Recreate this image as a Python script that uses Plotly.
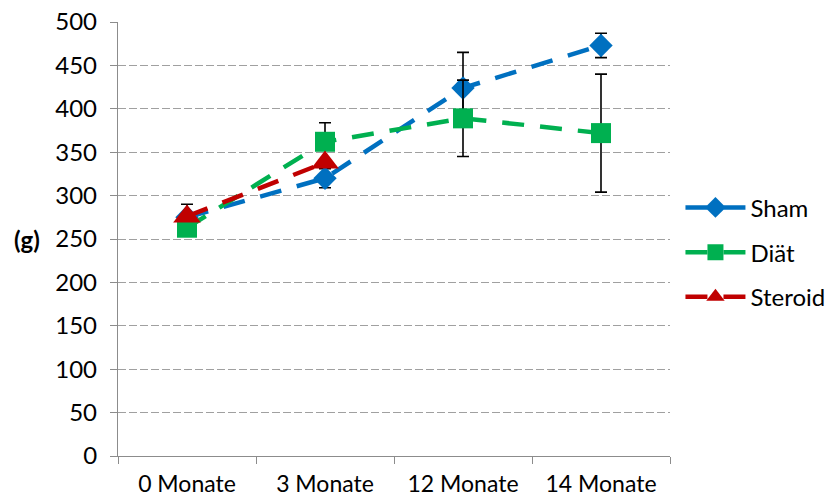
import plotly.graph_objects as go

categories = ["0 Monate", "3 Monate", "12 Monate", "14 Monate"]
sham = [275, 320, 424, 473]
sham_err = [15, 11, 41, 14]
diaet = [263, 362, 389, 372]
diaet_err = [7, 22, 44, 68]
steroid = [276, 338]
steroid_cats = categories[:2]
y_ticks = list(range(0, 501, 50))

FONT = "Lato"
fig = go.Figure()

def add(name, x, y, err, color, symbol, size):
    fig.add_trace(go.Scatter(
        x=x, y=y, name=name, mode="lines+markers", legendgroup=name,
        line=dict(color=color, width=4.5, dash="22px,16px"),
        marker=dict(symbol=symbol, size=size, color=color),
        error_y=(dict(type="data", array=err, visible=True, color="black",
                      thickness=1.6, width=6) if err else None),
    ))

add("Sham", categories, sham, sham_err, "#0070C0", "diamond", 18)
add("Diät", categories, diaet, diaet_err, "#00B050", "square", 20)
add("Steroid", steroid_cats, steroid, None, "#C00000", "triangle-up", 24)

fig.update_layout(
    width=838, height=501,
    margin=dict(l=118, r=168, t=22, b=45),
    paper_bgcolor="white", plot_bgcolor="white",
    font=dict(family=FONT, size=24, color="black"),
    showlegend=True,
    legend=dict(xref="container", yref="container", x=0.812, y=0.63,
                xanchor="left", yanchor="top",
                traceorder="grouped", tracegroupgap=10.5,
                font=dict(size=24), itemwidth=60),
    xaxis=dict(type="category", range=[-0.5, 3.5], showgrid=False,
               showline=True, linecolor="#8c8c8c", linewidth=1.3,
               ticks="outside", tickson="boundaries", ticklen=7,
               tickcolor="#8c8c8c", tickwidth=1.3, ticklabelstandoff=7,
               tickfont=dict(size=23), automargin=False),
    yaxis=dict(range=[0, 500], tickvals=y_ticks, showgrid=True,
               gridcolor="#a0a0a0", griddash="8px,3px", gridwidth=1.2,
               showline=True, linecolor="#8c8c8c", linewidth=1.3,
               ticks="outside", ticklen=7, tickcolor="#8c8c8c", tickwidth=1.3,
               zeroline=False, ticklabelstandoff=8, automargin=False),
)
fig.update_layout(annotations=[dict(text="<b>(g)</b>", x=-0.165, y=250,
                                     xref="paper", yref="y", showarrow=False,
                                     xanchor="center", font=dict(size=24))])
fig.write_html("out.html")
